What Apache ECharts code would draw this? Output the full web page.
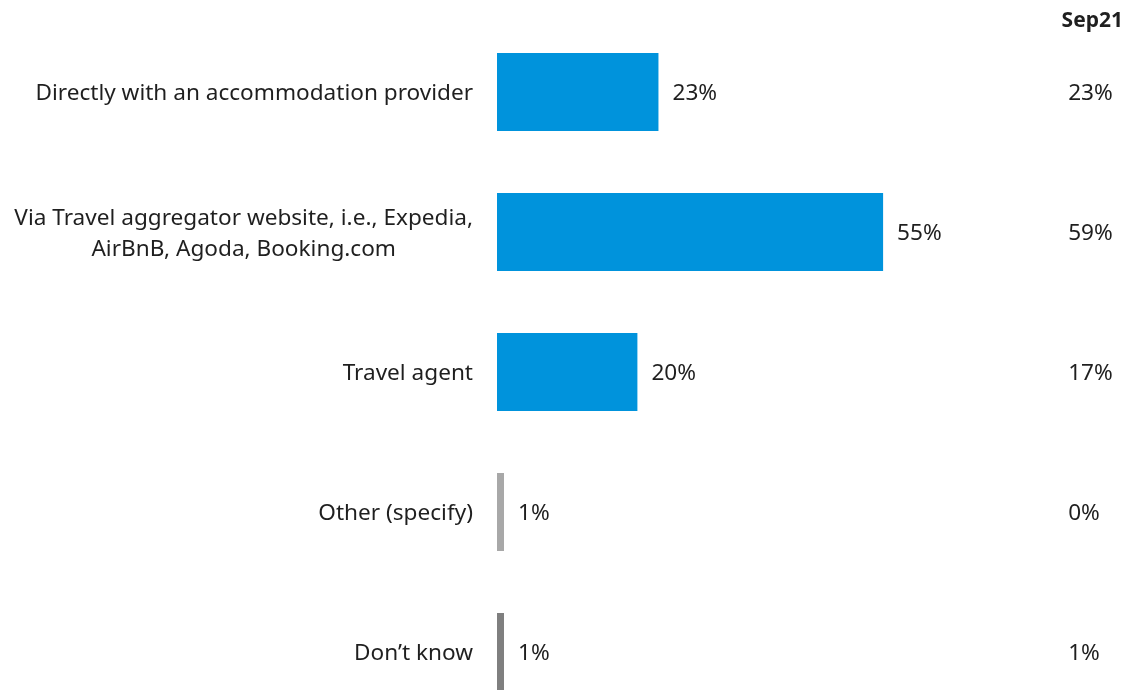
<!DOCTYPE html>
<html>
<head>
<meta charset="utf-8">
<script src="https://cdn.jsdelivr.net/npm/echarts@6/dist/echarts.min.js"></script>
<style>
  html, body { margin: 0; padding: 0; background: #ffffff; overflow: hidden; }
  #frame { width: 1137px; height: 690px; overflow: hidden; }
  /* the last row runs past the bottom edge, so the canvas is taller than the frame */
  #chart { width: 1137px; height: 730px; }
</style>
</head>
<body>
<div id="frame"><div id="chart"></div></div>
<script>
// Booking channel shares, current wave vs Sep21
const categories = [
  'Directly with an accommodation provider',
  'Via Travel aggregator website, i.e., Expedia,\nAirBnB, Agoda, Booking.com',
  'Travel agent',
  'Other (specify)',
  'Don\u2019t know'
];
const currentValues = [23, 55, 20, 1, 1];
const sep21Values = [23, 59, 17, 0, 1];
const barColors = ['#0093DC', '#0093DC', '#0093DC', '#A8A8A8', '#7F7F7F'];
const compareLabel = 'Sep21';

const FONT = '"Noto Sans", sans-serif';
const TEXT = '#1f1f1f';
// nudges text slightly down so it centres on its bar
const TEXT_PAD = [4, 0, 0, 0];

const chart = echarts.init(document.getElementById('chart'), null, { renderer: 'canvas' });

chart.setOption({
  animation: false,
  backgroundColor: '#ffffff',
  title: {
    text: compareLabel,
    right: 9,
    top: 6,
    textStyle: { fontFamily: FONT, fontSize: 21, fontWeight: 'bold', color: TEXT }
  },
  grid: { left: 497, top: 22, width: 421.2, height: 700, containLabel: false },
  xAxis: {
    type: 'value', min: 0, max: 60, show: false
  },
  yAxis: [
    {
      type: 'category',
      data: categories,
      inverse: true,
      axisLine: { show: false },
      axisTick: { show: false },
      axisLabel: {
        margin: 24,
        padding: TEXT_PAD,
        formatter: function (v) {
          return v.split('\n').map(function (s) { return '{c|' + s + '}'; }).join('\n');
        },
        rich: {
          c: { align: 'center', fontFamily: FONT, fontSize: 22.6, color: TEXT, lineHeight: 31 }
        }
      }
    },
    {
      type: 'category',
      data: categories,
      inverse: true,
      position: 'right',
      axisLine: { show: false },
      axisTick: { show: false },
      axisLabel: {
        margin: 150,
        align: 'left',
        padding: TEXT_PAD,
        formatter: function (v, i) { return '{p|' + sep21Values[i] + '%}'; },
        rich: {
          p: { fontFamily: FONT, fontSize: 22.6, color: TEXT, lineHeight: 31 }
        }
      }
    }
  ],
  series: [{
    type: 'bar',
    barWidth: 78,
    data: currentValues.map(function (v, i) {
      return { value: v, itemStyle: { color: barColors[i] } };
    }),
    label: {
      show: true,
      position: 'right',
      distance: 14,
      offset: [0, 2],
      formatter: '{c}%',
      fontFamily: FONT,
      fontSize: 22.6,
      color: TEXT
    }
  }]
});
</script>
</body>
</html>
